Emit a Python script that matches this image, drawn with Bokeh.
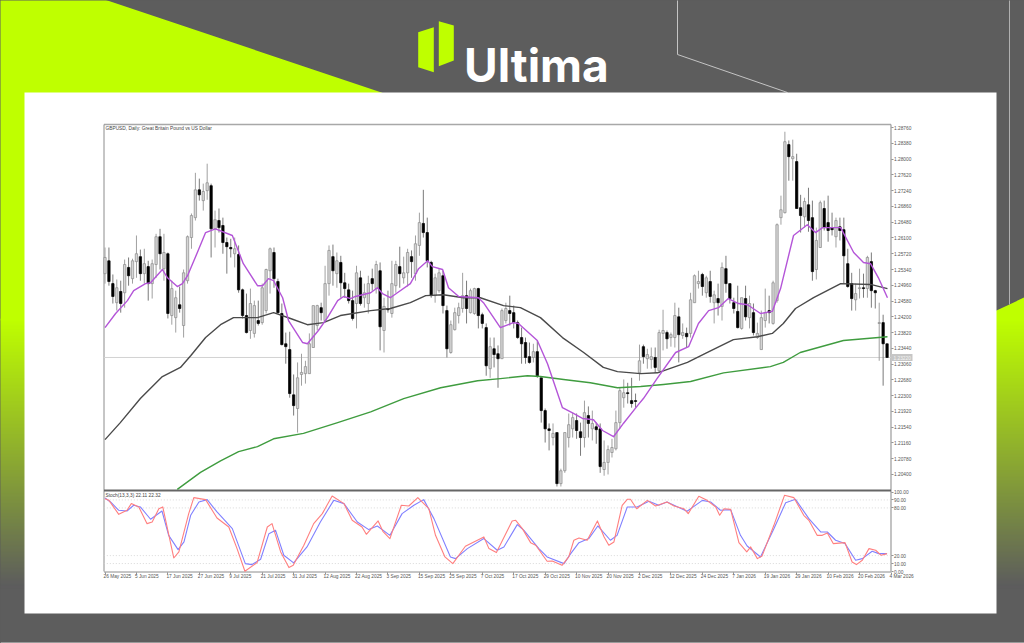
from bokeh.core.properties import value
from bokeh.embed import file_html
from bokeh.resources import INLINE
from bokeh.plotting import figure
from bokeh.models import (Range1d, LinearAxis, FixedTicker, NumeralTickFormatter,
                          ColumnDataSource, GlobalInlineStyleSheet)

# ---- data (GBPUSD daily, prices in 1/10000) ----
opens = [12524,12555,12500,12454,12481,12478,12539,12512,12553,12565,
12524,12541,12500,12546,12613,12536,12572,12423,12418,12449,
12399,12507,12611,12659,12726,12700,12724,12736,12632,12652,
12640,12599,12587,12572,12570,12485,12423,12387,12380,12411,
12406,12435,12531,12575,12505,12428,12355,12341,12232,12199,
12281,12283,12283,12346,12399,12442,12411,12500,12565,12524,
12551,12502,12485,12459,12452,12514,12466,12452,12512,12488,
12531,12387,12440,12428,12495,12541,12514,12526,12565,12524,
12592,12645,12623,12551,12471,12483,12519,12435,12334,12389,
12423,12440,12471,12430,12428,12488,12425,12394,12295,12343,
12331,12319,12411,12435,12430,12406,12370,12358,12324,12322,
12336,12273,12194,12150,12129,12141,12018,12049,12129,12150,
12170,12143,12129,12182,12150,12155,12150,12052,12069,12093,
12102,12165,12225,12237,12218,12218,12285,12348,12319,12317,
12322,12290,12380,12382,12370,12370,12420,12375,12380,12380,
12454,12500,12522,12478,12505,12454,12464,12445,12536,12500,
12454,12433,12392,12464,12418,12430,12370,12341,12411,12435,
12404,12459,12659,12671,12835,12801,12794,12683,12661,12690,
12659,12534,12587,12681,12647,12635,12613,12637,12630,12548,
12500,12461,12488,12490,12488,12553,12483,12404,12406,12355]
closes = [12563,12505,12469,12490,12452,12546,12519,12555,12572,12524,
12548,12500,12548,12613,12572,12575,12428,12488,12466,12440,
12526,12613,12664,12726,12714,12722,12743,12632,12654,12635,
12599,12589,12584,12584,12485,12423,12382,12452,12447,12404,
12490,12534,12584,12512,12430,12353,12348,12235,12206,12273,
12286,12300,12355,12447,12447,12430,12500,12580,12531,12555,
12502,12488,12459,12416,12526,12452,12478,12500,12500,12546,
12396,12445,12437,12500,12546,12524,12526,12575,12553,12596,
12647,12623,12555,12471,12514,12526,12447,12343,12401,12430,
12442,12471,12440,12483,12488,12423,12404,12302,12348,12329,
12319,12435,12440,12428,12406,12370,12355,12322,12310,12336,
12278,12194,12150,12146,12139,12018,12049,12141,12160,12177,
12146,12129,12189,12163,12163,12148,12059,12069,12100,12105,
12165,12242,12237,12235,12211,12216,12314,12324,12329,12324,
12298,12382,12387,12367,12377,12423,12377,12382,12372,12461,
12519,12505,12493,12514,12469,12473,12454,12539,12500,12464,
12440,12394,12466,12420,12452,12382,12380,12418,12430,12430,
12502,12642,12678,12842,12806,12806,12681,12664,12698,12652,
12529,12604,12695,12635,12628,12630,12652,12628,12567,12493,
12464,12476,12490,12488,12563,12483,12478,12406,12355,12322]
highs = [12587,12587,12522,12510,12507,12558,12563,12560,12616,12582,
12584,12555,12558,12620,12632,12620,12575,12507,12483,12493,
12534,12616,12669,12767,12753,12741,12789,12741,12676,12681,
12659,12611,12608,12611,12592,12488,12476,12488,12459,12459,
12500,12536,12587,12587,12512,12452,12382,12384,12281,12310,
12331,12314,12380,12447,12449,12454,12543,12592,12594,12575,
12567,12526,12500,12483,12543,12531,12500,12519,12536,12555,
12551,12466,12483,12555,12555,12589,12565,12584,12580,12616,
12671,12726,12659,12555,12524,12536,12531,12447,12411,12442,
12454,12526,12507,12488,12490,12490,12430,12404,12370,12370,
12351,12440,12454,12471,12447,12411,12394,12370,12358,12355,
12363,12273,12199,12163,12163,12141,12054,12141,12187,12189,
12187,12165,12218,12204,12194,12165,12163,12122,12110,12126,
12194,12249,12269,12261,12273,12235,12353,12353,12343,12346,
12346,12389,12437,12387,12382,12454,12442,12404,12394,12478,
12522,12531,12526,12519,12531,12483,12500,12551,12567,12500,
12466,12495,12466,12495,12471,12452,12406,12435,12488,12471,
12507,12645,12712,12866,12845,12847,12813,12714,12707,12731,
12700,12635,12700,12700,12712,12671,12659,12659,12659,12584,
12526,12500,12536,12524,12567,12575,12485,12454,12425,12355]
lows = [12500,12495,12452,12435,12430,12442,12495,12500,12514,12507,
12500,12459,12464,12514,12534,12507,12416,12401,12382,12430,
12370,12500,12584,12652,12700,12676,12702,12563,12587,12623,
12572,12524,12563,12539,12478,12416,12380,12367,12370,12399,
12401,12428,12476,12490,12428,12351,12307,12225,12182,12141,
12254,12259,12283,12346,12387,12411,12411,12471,12495,12490,
12466,12466,12452,12411,12392,12447,12442,12428,12483,12476,
12339,12334,12430,12418,12478,12490,12500,12493,12514,12507,
12567,12611,12539,12466,12454,12478,12428,12322,12331,12387,
12404,12430,12404,12428,12425,12392,12392,12278,12273,12298,
12249,12319,12404,12399,12392,12367,12307,12307,12307,12310,
12273,12165,12117,12098,12110,12011,12011,12044,12105,12129,
12126,12085,12105,12129,12122,12114,12044,12037,12040,12081,
12098,12150,12201,12211,12201,12201,12266,12307,12295,12295,
12285,12285,12339,12343,12348,12346,12310,12367,12346,12370,
12454,12488,12471,12466,12454,12404,12423,12411,12478,12452,
12428,12392,12389,12411,12392,12375,12367,12341,12394,12404,
12401,12454,12642,12669,12748,12748,12681,12623,12635,12625,
12507,12510,12587,12628,12601,12616,12587,12604,12500,12490,
12435,12435,12464,12466,12466,12442,12440,12314,12254,12322]

ma_fast_bar = [0,2.7,5.7,7.3,10.3,11.6,14.6,15.9,18.4,19.7,21,23.5,25.6,28.1,32.4,35.2,38.8,40.1,41.6,42.9,45.2,46.7,50.3,51.5,54.3,56.6,59.2,60.7,62.5,63.7,67.6,69.3,70.6,72.6,74.4,77.7,79.8,82.1,83.3,85.9,87.4,90,95,96.3,100.6,103.9,105.2,110,112.6,116.4,119.2,121.5,124.3,126.6,129.4,131.9,135.5,137,140.6,145.2,148.5,151,153.6,156.1,158.6,161.2,163.5,166.8,169.8,171.9,175.2,178.7,180.8,182.6,187.2,190.5,193,194.8,196.8,199.1]
ma_fast = [12394,12428,12459,12483,12500,12502,12534,12514,12493,12500,12519,12575,12623,12632,12616,12548,12495,12495,12512,12507,12466,12411,12358,12355,12387,12418,12459,12469,12464,12469,12478,12490,12476,12466,12478,12500,12536,12555,12541,12534,12490,12469,12466,12454,12394,12406,12404,12363,12307,12201,12187,12175,12172,12146,12131,12163,12206,12223,12273,12334,12348,12404,12435,12442,12464,12452,12449,12428,12433,12488,12616,12642,12623,12635,12635,12575,12551,12548,12514,12466]
ma_mid_bar = [0,3.9,9,14.6,19.2,21.8,25.6,29.4,32.7,38.8,42.9,47.2,51.5,55.6,59.9,67.6,72.6,77.7,81.6,86.1,91.2,95.5,101.4,105.7,110.8,116.4,121.8,126.8,130.4,136.3,140.6,148.2,153.3,159.9,166,169.8,172.6,175.7,180.3,187.2,194.8,199.1]
ma_mid = [12124,12165,12223,12276,12298,12326,12370,12401,12418,12418,12430,12416,12401,12406,12423,12435,12440,12454,12471,12473,12466,12466,12447,12442,12418,12370,12334,12298,12288,12283,12285,12310,12334,12365,12372,12380,12404,12440,12466,12500,12498,12488]
ma_slow_bar = [18.4,24.3,29.4,34,38.8,42.9,50.5,59.2,67.6,76,85.4,94.8,100.6,107.5,110.8,116.7,123.5,130.4,136.3,142.1,149,157.4,169.3,172.6,176.9,187.9,199.1]
ma_slow = [12004,12045,12073,12095,12107,12126,12139,12165,12191,12223,12249,12266,12271,12278,12276,12269,12261,12249,12252,12257,12264,12285,12300,12310,12334,12363,12372]

stoch_k_bar = [0,1,3.5,5.6,6.7,8.6,10.7,12,13.7,14.7,17.5,18.8,21.3,22.6,25.6,28.5,31.5,33.6,35.6,38.7,41.3,42.5,44.7,46.8,47.9,50.6,53.1,55.3,57.8,60.8,62.9,65.4,66.5,69.5,70.7,72.5,75.4,77.3,79.6,82.4,84.1,86.5,88.5,91.7,96.4,97.7,99.6,103.6,104.5,106.2,108.3,109.6,112.5,113.8,116.3,118,119.3,120.6,122.7,125.3,127,128.2,129.5,131.6,132.9,133.7,135.3,138,140.1,143,144.8,147.3,148.4,151.1,153.2,155.4,156.4,157.5,159.2,161.3,163.3,164.3,166,167.2,170.2,172.9,175.3,177.8,179.1,181.2,182.5,183.8,185.3,188.3,190.1,191.2,192.7,194.4,196.1,197.5,199]
stoch_k = [91.6,89.5,71.9,77,85.4,81.2,60.2,62.3,79,81.2,17,24.6,72.8,92.9,90.4,67.3,56,28.8,0.3,11.2,56,60.2,24.6,4.9,7.8,33,60.2,72.8,95,85.4,64.4,56,46.8,63.6,50.6,41.4,83.3,82.4,92.9,79,45.5,18.3,9.9,31.7,43.5,28.8,23.8,63.6,64.4,53.9,36.3,33,12.9,13.3,7.8,18.3,39.3,42.2,39.3,63.6,43.5,33,37.2,83.3,90.8,90.8,79,89.5,82.4,87.4,82.4,79,72.8,94.6,89.5,81.2,70.7,79,78.2,36.3,24.6,30.9,16.2,19.6,58.1,95.8,92.9,70.7,64.4,45.5,45.5,48.5,35.1,36.3,12,8.7,14.1,28.8,26.7,20.4,22.5]
stoch_d_bar = [0,1.4,3.5,5.6,7.3,9,11.6,14.5,16.2,18.6,20.1,21.8,23.9,26,28.5,32.4,35.7,37.4,39.6,41.7,43.4,45.5,48,51.4,54.8,58.2,60.8,64.2,67.1,69.3,72.5,75.6,78.6,81.1,83.7,87.9,89.2,92.2,96.4,99.8,101.5,104.9,106.6,108.3,110.4,112.5,116.8,118.5,120.6,123.1,125.4,128.6,130.3,132.9,135.4,138.4,140.9,143,148.1,152,154.1,156.6,159.2,161.7,163.4,166.8,170.2,173.2,175.7,179.1,182.1,183.8,185.9,188.3,191,192.7,195.2,196.9,199]
stoch_d = [92.5,87.5,77,76.1,83.3,81.2,65.7,76.1,45.5,27.5,37.2,70.7,87.5,90.4,74.9,53.9,9.9,8.7,15.4,47.6,51.8,20.4,10.8,30.9,62.3,89.5,85.4,62.3,52.7,57.3,45.5,72.8,83.3,90.4,66.5,18.3,16.2,28.8,41.4,26.7,30.9,59,51.8,41.4,28.8,18.3,9.9,22.5,36.3,41.4,57.3,39.3,45.5,81.2,81.2,88.3,83.3,87.5,75.7,89.5,87.5,77,77.8,45.5,32.1,18.3,53.9,86.6,90.8,66.5,49.7,49.7,39.3,35.1,14.1,16.2,25.4,22.5,22.5]

date_bars = [0,8,16,24,32,40,48,56,64,72,80,88,96,104,112,120,128,136,144,152,160,168,176,184,192,200]
date_labels = ["26 May 2025","5 Jun 2025","17 Jun 2025","27 Jun 2025","9 Jul 2025","21 Jul 2025","31 Jul 2025",
               "12 Aug 2025","22 Aug 2025","3 Sep 2025","15 Sep 2025","25 Sep 2025","7 Oct 2025","17 Oct 2025",
               "29 Oct 2025","10 Nov 2025","20 Nov 2025","2 Dec 2025","12 Dec 2025","24 Dec 2025","7 Jan 2026",
               "19 Jan 2026","29 Jan 2026","10 Feb 2026","20 Feb 2026","4 Mar 2026"]
price_ticks = [1.2040,1.2078,1.2116,1.2154,1.2192,1.2230,1.2268,1.2306,1.2344,1.2382,1.2420,1.2458,
               1.2496,1.2534,1.2572,1.2610,1.2648,1.2686,1.2724,1.2762,1.2800,1.2838,1.2876]
stoch_ticks = [0,10,20,80,90,100]
stoch_levels = [10,20,80,90]
last_price = "1.23220"
chart_title = "GBPUSD, Daily:  Great Britain Pound vs US Dollar"
stoch_title = "Stoch(13,3,3) 22.11 22.32"

GREY, LIME = "#5d5d5d", "#bfff00"
FONT = "Liberation Sans"
TXT = "#555555"

p = figure(width=1024, height=643, x_range=Range1d(0, 1024), y_range=Range1d(643, 0),
           output_backend="svg", toolbar_location=None, x_axis_type=None, y_axis_type=None,
           min_border=0, outline_line_color=None, background_fill_color=GREY, border_fill_color=GREY)
p.grid.visible = False
p.stylesheets = [GlobalInlineStyleSheet(css="html,body{margin:0;padding:0;overflow:hidden;background:#5d5d5d}")]

# scales for the chart panes, aligned on the canvas
X0, DX = 104.5, 3.93
p.extra_x_ranges = {"bars": Range1d((0 - X0) / DX, (1024 - X0) / DX)}
PT, PS = 1.31823, 0.000241
ST, SS = 491.5, 0.795
p.extra_y_ranges = {"price": Range1d(PT - PS * 643, PT),
                    "stoch": Range1d(100 - (643 - ST) / SS, 100 + ST / SS)}

# ---- page decoration ----
def mix(t):
    a, b = (0xbf, 0xff, 0x00), (0x5d, 0x5d, 0x5d)
    return "#%02x%02x%02x" % tuple(round(a[k] + (b[k] - a[k]) * t) for k in range(3))

bands = list(range(318, 586))
p.quad(left=0, right=1024, top=bands, bottom=[b + 3 for b in bands],
       color=[mix((b - 318) / 266) for b in bands], line_color=None)
p.patch([-2, 101, 381, 900, 996, 1030, 1030, -2], [-2, -2, 92, 330, 310, 294, 320, 320],
        color=LIME, line_color=None)
p.line([677, 677, 787], [-1, 54, 92], line_color="#c4c4c4", line_width=1)
p.line([1009, 1009], [-1, 304], line_color="#b0b0b0", line_width=1)
p.line([0, 1024], [642, 642], line_color="#9a9a9a", line_width=1)
p.quad(left=24, right=996, top=92, bottom=613, color="white", line_color=None)

# logo
p.patch([417.7, 433.3, 433.3, 417.7], [31.7, 26.7, 71.7, 66.7], color=LIME, line_color=None)
p.patch([438.3, 453.3, 453.3, 438.3], [20.7, 25, 60, 65.7], color=LIME, line_color=None)
p.text(x=[463.5], y=[64.5], text=["Ultima"], text_color="white", text_font=value("Inter"), text_font_style="bold",
       text_font_size="46px", text_baseline="alphabetic")

# ---- panes ----
for x0, y0, x1, y1, c, w in [(103.5, 124, 890.5, 124, "#a8a8a8", 1.5), (103.5, 124, 103.5, 571, "#8c8c8c", 1),
                             (890.5, 124, 890.5, 571, "#9a9a9a", 1.2), (103.5, 490, 890.5, 490, "#666666", 2),
                             (103.5, 571.5, 890.5, 571.5, "#8c8c8c", 1)]:
    p.line([x0, x1], [y0, y1], line_color=c, line_width=w)

# price line under the candles
p.line([-0.3, 200], [float(last_price)] * 2, x_range_name="bars", y_range_name="price",
       line_color="#d2d2d2", line_width=1)

idx = list(range(len(opens)))
src = ColumnDataSource(dict(
    x=idx,
    hi=[v / 1e4 for v in highs], lo=[v / 1e4 for v in lows],
    top=[max(o, c) / 1e4 for o, c in zip(opens, closes)],
    bot=[min(o, c) / 1e4 for o, c in zip(opens, closes)],
    fill=["#d6d6d6" if c >= o else "#000000" for o, c in zip(opens, closes)],
    edge=["#8a8a8a" if c >= o else "#000000" for o, c in zip(opens, closes)],
    wick=["#a0a0a0" if c >= o else "#7a7a7a" for o, c in zip(opens, closes)],
))
p.segment("x", "hi", "x", "lo", source=src, x_range_name="bars", y_range_name="price",
          line_color="wick", line_width=1)
p.vbar("x", width=0.6, top="top", bottom="bot", source=src, x_range_name="bars", y_range_name="price",
       fill_color="fill", line_color="edge", line_width=0.7)

for xs, ys, col, lw in [(ma_slow_bar, ma_slow, "#3f9c3f", 1.4), (ma_mid_bar, ma_mid, "#4a4a4a", 1.4),
                        (ma_fast_bar, ma_fast, "#b455d8", 1.4)]:
    p.line(xs, [v / 1e4 for v in ys], x_range_name="bars", y_range_name="price",
           line_color=col, line_width=lw, line_join="round")

# stochastic pane
for lv in stoch_levels:
    p.line([-0.3, 200], [lv, lv], x_range_name="bars", y_range_name="stoch",
           line_color="#cfcfcf", line_width=0.8, line_dash=[1, 2])
p.line(stoch_d_bar, stoch_d, x_range_name="bars", y_range_name="stoch", line_color="#8080ff", line_width=1.1,
       line_join="round")
p.line(stoch_k_bar, stoch_k, x_range_name="bars", y_range_name="stoch", line_color="#ff7f7f", line_width=1.1,
       line_join="round")

# ---- axes ----
def style(ax):
    ax.major_label_text_font = FONT
    ax.major_label_text_font_size = "4.8px"
    ax.major_label_text_color = TXT
    ax.axis_line_color = None
    ax.major_tick_line_color = "#666666"
    ax.major_tick_line_width = 0.7
    ax.major_tick_in = 0
    ax.major_tick_out = 2
    ax.minor_tick_line_color = None
    ax.major_label_standoff = 1

ay = LinearAxis(y_range_name="price", fixed_location=890.5, ticker=FixedTicker(ticks=price_ticks),
                formatter=NumeralTickFormatter(format="0.00000"))
style(ay)
p.add_layout(ay, "right")

az = LinearAxis(y_range_name="stoch", fixed_location=890.5, ticker=FixedTicker(ticks=stoch_ticks),
                formatter=NumeralTickFormatter(format="0.00"))
style(az)
p.add_layout(az, "right")

ax = LinearAxis(x_range_name="bars", fixed_location=571.5, ticker=FixedTicker(ticks=date_bars))
style(ax)
ax.major_label_text_color = None
p.add_layout(ax, "below")

p.text(x=date_bars, y=[576.3] * len(date_bars), text=date_labels, x_range_name="bars",
       text_font=value(FONT), text_font_size="4.8px", text_color=TXT, text_baseline="middle", x_offset=-1.5)

# last price tag
p.quad(left=890.5, right=912, top=353.5, bottom=360.5, color="#c6c6c6", line_color=None)
p.text(x=[893], y=[357], text=[last_price], text_font=value(FONT), text_font_size="4.8px", text_color="#f4f4f4",
       text_baseline="middle")

# pane titles
p.text(x=[105], y=[127.5], text=[chart_title], text_font=value(FONT), text_font_size="4.8px", text_color="#444444",
       text_baseline="middle")
p.text(x=[105], y=[494.5], text=[stoch_title], text_font=value(FONT), text_font_size="4.8px", text_color="#444444",
       text_baseline="middle")

open("out.html", "w").write(file_html(p, INLINE))
